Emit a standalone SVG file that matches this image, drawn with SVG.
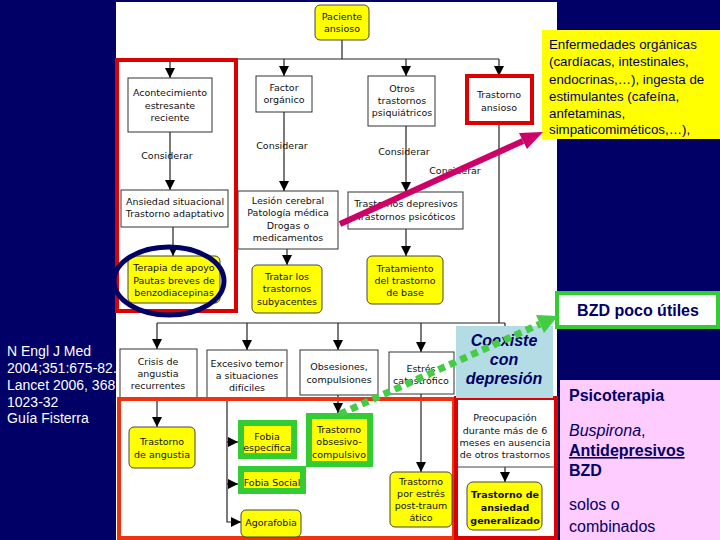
<svg xmlns="http://www.w3.org/2000/svg" width="720" height="540" viewBox="0 0 720 540">
<defs>
<style>
.bx{fill:#fff;stroke:#333;stroke-width:1}
.yb{fill:#ffff00;stroke:#444;stroke-width:1}
.gb{fill:#ffff00;stroke:#33cc33;stroke-width:6}
.t{font-family:"DejaVu Sans",sans-serif;font-size:9.5px;fill:#111;text-anchor:middle}
.tb{font-family:"DejaVu Sans",sans-serif;font-size:9.5px;font-weight:bold;fill:#111;text-anchor:middle}
.ln{fill:none;stroke:#222;stroke-width:1.2}
.lna{fill:none;stroke:#222;stroke-width:1.2;marker-end:url(#ah)}
.ref{font-family:"Liberation Sans",Arial,sans-serif;font-size:14px;fill:#fff}
.note{font-family:"Liberation Sans",Arial,sans-serif;font-size:13.3px;fill:#000066}
.big{font-family:"Liberation Sans",Arial,sans-serif;font-size:16px;fill:#000066}
</style>
<marker id="ah" viewBox="0 0 10 10" refX="10" refY="5" markerWidth="10" markerHeight="10" markerUnits="userSpaceOnUse" orient="auto">
<path d="M0,0 L10,5 L0,10 z" fill="#000"/>
</marker>
</defs>

<rect x="0" y="0" width="720" height="540" fill="#000066"/>

<g id="refs">
<text class="ref" x="7" y="356">N Engl J Med</text>
<text class="ref" x="7" y="373">2004;351:675-82.</text>
<text class="ref" x="7" y="390">Lancet 2006, 368</text>
<text class="ref" x="7" y="407">1023-32</text>
<text class="ref" x="7" y="423">Guía Fisterra</text>
</g>

<rect x="116" y="2" width="441" height="538" fill="#fff"/>

<g id="connectors">
<path class="ln" d="M342,40 V59 M170,59 H499"/>
<path class="lna" d="M170,59 V78"/>
<path class="lna" d="M284,59 V76"/>
<path class="lna" d="M406,59 V76"/>
<path class="lna" d="M499,59 V76"/>
<path class="lna" d="M170,132 V190"/>
<path class="lna" d="M284,112 V191"/>
<path class="lna" d="M406,126 V192"/>
<path class="ln" d="M499,123 V323 M157,323 H505"/>
<path class="lna" d="M173,227 V256"/>
<path class="lna" d="M287,249 V265"/>
<path class="lna" d="M406,229 V256"/>
<path class="lna" d="M157,323 V349"/>
<path class="lna" d="M247,323 V350"/>
<path class="lna" d="M338,323 V350"/>
<path class="lna" d="M421,323 V352"/>
<path class="lna" d="M505,323 V402"/>
<path class="lna" d="M157,398 V427"/>
<path class="lna" d="M227,398 V522 H241"/>
<path class="lna" d="M227,442 H238"/>
<path class="lna" d="M227,484 H238"/>
<path class="lna" d="M338,395 V413"/>
<path class="lna" d="M421,394 V472"/>
<path class="lna" d="M505,467 V482"/>
</g>

<g id="paciente"><rect class="yb" x="315" y="5" width="54" height="35" rx="5"/>
<text class="t" x="342" y="20">Paciente</text><text class="t" x="342" y="32">ansioso</text></g>

<g id="acontecimiento"><rect class="bx" x="128" y="78" width="84" height="54"/>
<text class="t" x="170" y="96">Acontecimiento</text><text class="t" x="170" y="109">estresante</text><text class="t" x="170" y="121">reciente</text></g>
<text class="t" x="167" y="159">Considerar</text>

<g id="factor"><rect class="bx" x="256" y="76" width="56" height="36"/>
<text class="t" x="284" y="91">Factor</text><text class="t" x="284" y="103">orgánico</text></g>
<text class="t" x="282" y="149">Considerar</text>

<g id="otros"><rect class="bx" x="368" y="76" width="67" height="50"/>
<text class="t" x="402" y="92">Otros</text><text class="t" x="402" y="104">trastornos</text><text class="t" x="402" y="116">psiquiátricos</text></g>
<text class="t" x="404" y="155">Considerar</text>

<g id="ansioso"><rect x="467" y="76" width="65" height="47" fill="#fff" stroke="#dd0000" stroke-width="4"/>
<text class="t" x="499" y="98">Trastorno</text><text class="t" x="499" y="111">ansioso</text></g>
<text class="t" x="455" y="174">Considerar</text>

<g id="ansiedad"><rect class="bx" x="121" y="190" width="107" height="37"/>
<text class="t" x="175" y="205">Ansiedad situacional</text><text class="t" x="175" y="217">Trastorno adaptativo</text></g>

<g id="lesion"><rect class="bx" x="238" y="191" width="100" height="58"/>
<text class="t" x="288" y="204">Lesión cerebral</text><text class="t" x="288" y="216">Patología médica</text><text class="t" x="288" y="229">Drogas o</text><text class="t" x="288" y="241">medicamentos</text></g>

<g id="depresivos"><rect class="bx" x="348" y="192" width="115" height="37"/>
<text class="t" x="406" y="207">Trastornos depresivos</text><text class="t" x="406" y="220">Trastornos psicóticos</text></g>

<g id="terapia"><rect class="yb" x="128" y="256" width="92" height="47" rx="5"/>
<text class="t" x="174" y="271">Terapia de apoyo</text><text class="t" x="174" y="284">Pautas breves de</text><text class="t" x="174" y="296">benzodiacepinas</text></g>

<g id="tratar"><rect class="yb" x="252" y="265" width="70" height="48" rx="5"/>
<text class="t" x="287" y="280">Tratar los</text><text class="t" x="287" y="292">trastornos</text><text class="t" x="287" y="305">subyacentes</text></g>

<g id="tratamiento"><rect class="yb" x="367" y="256" width="76" height="48" rx="5"/>
<text class="t" x="405" y="272">Tratamiento</text><text class="t" x="405" y="284">del trastorno</text><text class="t" x="405" y="296">de base</text></g>

<g id="frame-left"><rect x="117" y="60" width="119" height="251" fill="none" stroke="#dd0000" stroke-width="4"/></g>
<g id="ellipse"><ellipse cx="169" cy="281" rx="55" ry="34" fill="none" stroke="#000066" stroke-width="5"/></g>

<g id="crisis"><rect class="bx" x="120" y="349" width="77" height="49"/>
<text class="t" x="158" y="365">Crisis de</text><text class="t" x="158" y="377">angustia</text><text class="t" x="158" y="389">recurrentes</text></g>

<g id="excesivo"><rect class="bx" x="207" y="350" width="80" height="48"/>
<text class="t" x="247" y="367">Excesivo temor</text><text class="t" x="247" y="379">a situaciones</text><text class="t" x="247" y="391">difíciles</text></g>

<g id="obsesiones"><rect class="bx" x="300" y="350" width="78" height="45"/>
<text class="t" x="339" y="370">Obsesiones,</text><text class="t" x="339" y="383">compulsiones</text></g>

<g id="estres"><rect class="bx" x="389" y="352" width="65" height="42"/>
<text class="t" x="421" y="372">Estrés</text><text class="t" x="421" y="384">catastrófico</text></g>

<g id="frame-bottom"><rect x="119" y="399" width="335" height="139" fill="none" stroke="#ee3311" stroke-width="4"/></g>

<g id="angustia"><rect class="yb" x="129" y="427" width="66" height="41" rx="5"/>
<text class="t" x="162" y="445">Trastorno</text><text class="t" x="162" y="458">de angustia</text></g>

<g id="fobia-especifica"><rect class="gb" x="241" y="423" width="53" height="33"/>
<text class="t" x="267" y="440">Fobia</text><text class="t" x="267" y="451">específica</text></g>

<g id="fobia-social"><rect class="gb" x="241" y="469" width="62" height="22"/>
<text class="t" x="272" y="486">Fobia Social</text></g>

<g id="agorafobia"><rect class="yb" x="241" y="510" width="60" height="27" rx="5"/>
<text class="t" x="271" y="526">Agorafobia</text></g>

<g id="toc"><rect class="gb" x="309" y="416" width="61" height="48"/>
<text class="t" x="339" y="433">Trastorno</text><text class="t" x="339" y="445">obsesivo-</text><text class="t" x="339" y="458">compulsivo</text></g>

<g id="tept"><rect class="yb" x="390" y="472" width="62" height="55" rx="5"/>
<text class="t" x="421" y="485">Trastorno</text><text class="t" x="421" y="497">por estrés</text><text class="t" x="421" y="509">post-traum</text><text class="t" x="421" y="521">ático</text></g>

<g id="preocupacion"><rect x="456" y="399" width="99" height="68" fill="#fff" stroke="#444" stroke-width="1"/>
<text class="t" x="505" y="421">Preocupación</text><text class="t" x="505" y="434">durante más de 6</text><text class="t" x="505" y="446">meses en ausencia</text><text class="t" x="505" y="458">de otros trastornos</text></g>

<g id="tag"><rect class="yb" x="467" y="482" width="75" height="48" rx="6"/>
<text class="tb" x="505" y="498">Trastorno de</text><text class="tb" x="505" y="511">ansiedad</text><text class="tb" x="505" y="524">generalizado</text></g>

<g id="frame-right"><rect x="456" y="398" width="100" height="140" fill="none" stroke="#dd0000" stroke-width="4"/></g>

<g id="coexiste"><rect x="456" y="326" width="97" height="72" fill="#b4dce4"/>
<text class="big" x="504" y="346" text-anchor="middle" font-weight="bold" font-style="italic">Coexiste</text>
<text class="big" x="504" y="365" text-anchor="middle" font-weight="bold" font-style="italic">con</text>
<text class="big" x="504" y="384" text-anchor="middle" font-weight="bold" font-style="italic">depresión</text></g>

<g id="note"><rect x="542" y="30" width="178" height="109" fill="#ffff00"/>
<text class="note" x="549" y="49">Enfermedades orgánicas</text>
<text class="note" x="549" y="66">(cardíacas, intestinales,</text>
<text class="note" x="549" y="84">endocrinas,…), ingesta de</text>
<text class="note" x="549" y="101">estimulantes (cafeína,</text>
<text class="note" x="549" y="118">anfetaminas,</text>
<text class="note" x="549" y="134">simpaticomiméticos,…),</text></g>

<g id="bzd"><rect x="557" y="293" width="161" height="34" fill="#fff" stroke="#33cc33" stroke-width="4"/>
<text class="big" x="638" y="316" text-anchor="middle" font-weight="bold">BZD poco útiles</text></g>

<g id="tratamiento-tag"><rect x="560" y="380" width="160" height="160" fill="#ffccff"/>
<text class="big" x="569" y="401" font-weight="bold">Psicoterapia</text>
<text class="big" x="569" y="436"><tspan font-style="italic">Buspirona</tspan>,</text>
<text class="big" x="569" y="456" font-weight="bold" text-decoration="underline">Antidepresivos</text>
<text class="big" x="569" y="476" font-weight="bold">BZD</text>
<text class="big" x="569" y="510">solos o</text>
<text class="big" x="569" y="532">combinados</text></g>

<g id="pointers">
<line x1="340" y1="224" x2="523" y2="141" stroke="#cc0066" stroke-width="6"/>
<polygon points="543,132 527,149 519,133" fill="#cc0066"/>
<line x1="340" y1="414" x2="540" y2="324" stroke="#44cc44" stroke-width="7" stroke-dasharray="7 5"/>
<polygon points="558,316 544,333 536,315" fill="#44cc44"/>
</g>
</svg>
